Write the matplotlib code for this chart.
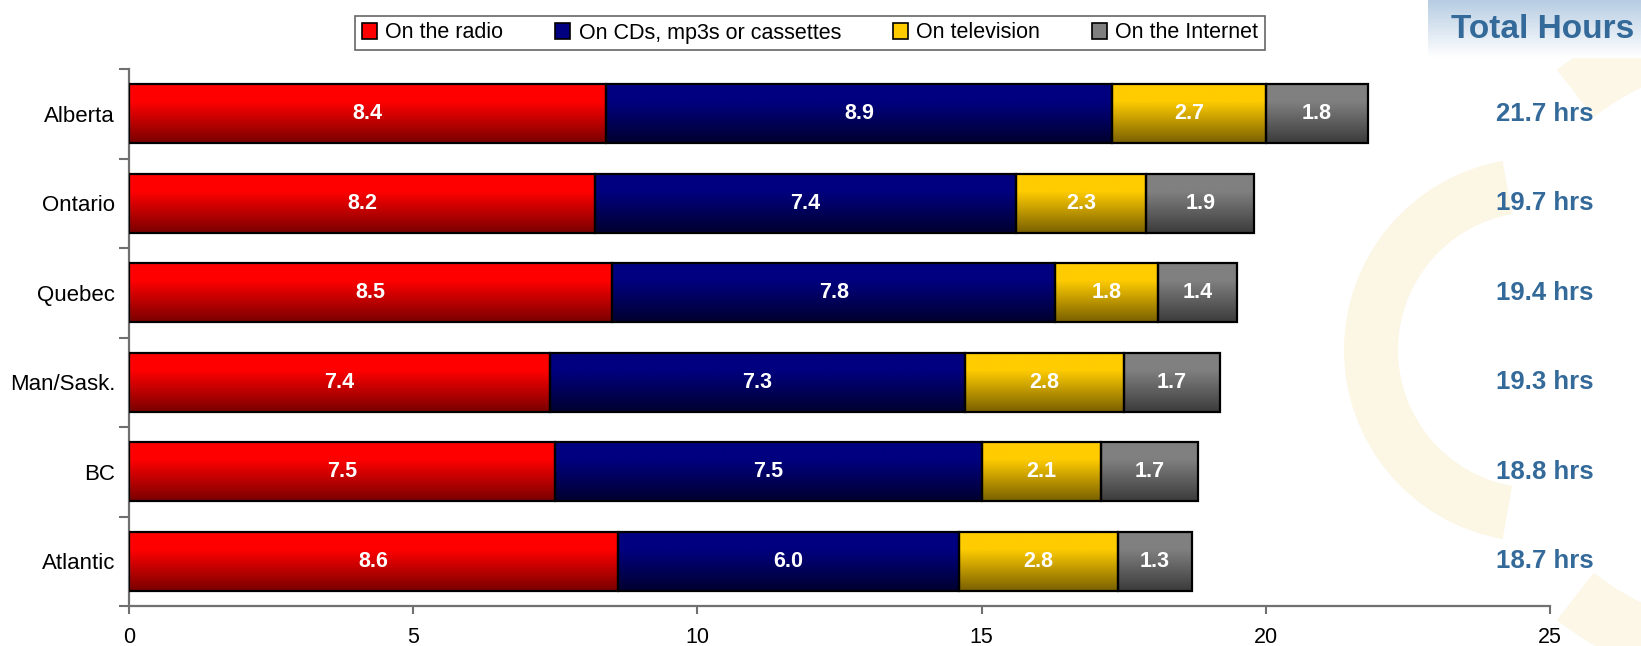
import matplotlib
matplotlib.use("Agg")
import matplotlib.pyplot as plt
import numpy as np
from matplotlib.colors import LinearSegmentedColormap
from matplotlib.patches import Patch, Wedge
import matplotlib.transforms as mtransforms

plt.rcParams['font.family'] = ['Liberation Sans', 'DejaVu Sans']

# Data (top to bottom)
regions = ["Alberta", "Ontario", "Quebec", "Man/Sask.", "BC", "Atlantic"]
radio = [8.4, 8.2, 8.5, 7.4, 7.5, 8.6]
cds = [8.9, 7.4, 7.8, 7.3, 7.5, 6.0]
tv = [2.7, 2.3, 1.8, 2.8, 2.1, 2.8]
internet = [1.8, 1.9, 1.4, 1.7, 1.7, 1.3]
totals = [21.7, 19.7, 19.4, 19.3, 18.8, 18.7]
series_names = ["On the radio", "On CDs, mp3s or cassettes", "On television", "On the Internet"]

# bright (top) / dark (bottom) colours for the gradients
bright = ["#ff0000", "#000080", "#ffcc00", "#808080"]
dark = ["#7a0000", "#000030", "#7a6000", "#3c3c3c"]

W, H = 1641, 646
fig = plt.figure(figsize=(W / 100, H / 100), dpi=100)

# background layer in pixel coordinates (faint decorative rings)
bg = fig.add_axes([0, 0, 1, 1], zorder=-2)
bg.set_xlim(0, W)
bg.set_ylim(H, 0)
bg.set_axis_off()
bg.add_patch(Wedge((1536, 350), 192, 100, 260, width=54, facecolor="#fcf6e5", edgecolor="none"))
bg.add_patch(Wedge((1760, 360), 330, 95, 128, width=60, facecolor="#fdf7e8", edgecolor="none"))
bg.add_patch(Wedge((1760, 330), 330, 232, 262, width=60, facecolor="#fdf7e8", edgecolor="none"))

# header gradient box behind "Total Hours"
hax = fig.add_axes([1428 / W, 1 - 58 / H, 1 - 1428 / W, 58 / H], zorder=-1)
hgrad = np.linspace(0, 1, 100).reshape(-1, 1)
hcmap = LinearSegmentedColormap.from_list("h", ["#b7cde3", "#ffffff"])
hax.imshow(hgrad, cmap=hcmap, aspect="auto", extent=[0, 1, 0, 1])
hax.set_axis_off()
fig.text(1543 / W, 1 - 30 / H, "Total Hours", ha="center", va="center",
         fontsize=24, fontweight="bold", color="#346a9a")

ax = fig.add_axes([129 / W, 40 / H, (1550 - 129) / W, (606 - 69) / H])
ax.patch.set_alpha(0)

y = np.arange(len(regions))
series = [radio, cds, tv, internet]
left = np.zeros(len(regions))
for i, vals in enumerate(series):
    cmap = LinearSegmentedColormap.from_list("g%d" % i, [(0, bright[i]), (0.3, bright[i]), (1, dark[i])])
    bars = ax.barh(y, vals, left=left, height=0.66, facecolor="none",
                   edgecolor="black", linewidth=1.6, zorder=3)
    for b, v in zip(bars, vals):
        x0, y0 = b.get_x(), b.get_y()
        w, h = b.get_width(), b.get_height()
        grad = np.linspace(0, 1, 100).reshape(-1, 1)
        ax.imshow(grad, cmap=cmap, aspect="auto", extent=[x0, x0 + w, y0 + h, y0],
                  zorder=2, interpolation="bilinear")
        ax.text(x0 + w / 2, y0 + h / 2, "%.1f" % v, ha="center", va="center",
                color="white", fontsize=15.5, fontweight="bold", zorder=4)
    left = left + np.array(vals)

ax.set_xlim(0, 25)
ax.set_ylim(len(regions) - 0.5, -0.5)
ax.set_aspect("auto")

# category labels with boundary ticks
ax.set_yticks(y)
ax.set_yticklabels(regions, fontsize=16)
ax.tick_params(axis="y", which="major", length=0, pad=10)
ax.set_yticks(np.arange(-0.5, len(regions), 1), minor=True)
ax.tick_params(axis="y", which="minor", length=7, width=1.5, color="#707070", direction="out")

ax.set_xticks(np.arange(0, 26, 5))
ax.tick_params(axis="x", labelsize=15.5, length=6, width=1.5, color="#707070", pad=9)

for s in ["top", "right"]:
    ax.spines[s].set_visible(False)
for s in ["left", "bottom"]:
    ax.spines[s].set_color("#707070")
    ax.spines[s].set_linewidth(1.6)

# total hours labels at the right
trans = mtransforms.blended_transform_factory(fig.transFigure, ax.transData)
for yi, t in zip(y, totals):
    ax.text(1545 / W, yi, "%.1f hrs" % t, transform=trans, ha="center", va="center",
            fontsize=18.5, fontweight="bold", color="#346a9a", clip_on=False)

handles = [Patch(facecolor=c, edgecolor="black", linewidth=1.2) for c in bright]
leg = fig.legend(handles, series_names, loc="center", bbox_to_anchor=(810 / W, 1 - 33 / H),
                 ncol=4, fontsize=15.5, frameon=True, fancybox=False, edgecolor="#404040",
                 handlelength=0.7, handleheight=0.7, handletextpad=0.4, columnspacing=2.4,
                 borderpad=0.28)
leg.get_frame().set_linewidth(1.2)

fig.savefig("out.png", dpi=100)
